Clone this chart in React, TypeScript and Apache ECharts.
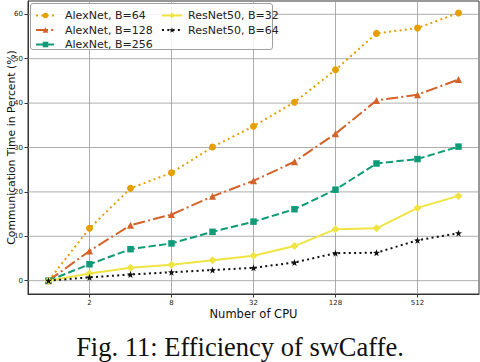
import React, { useEffect, useRef } from "react";
import * as echarts from "echarts";

const cpus = [1, 2, 4, 8, 16, 32, 64, 128, 256, 512, 1024];
const xTickCpus = [2, 8, 32, 128, 512];
const yTicks = [0, 10, 20, 30, 40, 50, 60];

const alexNet64 = [0, 11.8, 20.8, 24.3, 30.1, 34.8, 40.2, 47.5, 55.7, 56.9, 60.3];
const alexNet128 = [0, 6.7, 12.5, 14.9, 19.0, 22.5, 26.8, 33.1, 40.6, 41.9, 45.3];
const alexNet256 = [0, 3.7, 7.1, 8.4, 11.0, 13.3, 16.1, 20.5, 26.4, 27.4, 30.2];
const resNet32 = [0, 1.6, 2.9, 3.6, 4.6, 5.6, 7.8, 11.6, 11.8, 16.4, 19.1];
const resNet64 = [0, 0.75, 1.4, 1.9, 2.4, 2.9, 4.1, 6.2, 6.3, 9.1, 10.7];

const seriesNames = [
  "AlexNet, B=64",
  "AlexNet, B=128",
  "AlexNet, B=256",
  "ResNet50, B=32",
  "ResNet50, B=64",
];
const caption = "Fig. 11: Efficiency of swCaffe.";
const xTitle = "Number of CPU";
const yTitle = "Communication Time in Percent (%)";

const STAR =
  "path://M0,-10L2.35,-3.24L9.51,-3.09L3.8,1.24L5.88,8.09L0,4L-5.88,8.09L-3.8,1.24L-9.51,-3.09L-2.35,-3.24Z";

const SANS = "'DejaVu Sans', sans-serif";
const GRID_COLOR = "#9a9a9a";
const X_MIN = -0.5;
const X_MAX = 10.5;
const Y_MIN = -3;
const Y_MAX = 63;

export default function App() {
  const ref = useRef<HTMLDivElement>(null);
  useEffect(() => {
    if (!ref.current) return;
    const chart = echarts.init(ref.current, undefined, { renderer: "svg" });
    const toPts = (vals: number[]) => cpus.map((c, i) => [Math.log2(c), vals[i]]);
    const xTickVals = xTickCpus.map((c) => Math.log2(c));

    const specs = [
      { vals: alexNet64, color: "#E69F00", dash: [2, 3.3], symbol: "circle", size: 7 },
      { vals: alexNet128, color: "#D3632A", dash: [12, 3.2, 2, 3.2], symbol: "triangle", size: 7 },
      { vals: alexNet256, color: "#0F9B77", dash: [7.4, 3.2], symbol: "rect", size: 6.5 },
      { vals: resNet32, color: "#F0E442", dash: "solid", symbol: "diamond", size: 8 },
      { vals: resNet64, color: "#111111", dash: [2, 3.3], symbol: STAR, size: 7 },
    ];

    const legendText = {
      fontSize: 11,
      lineHeight: 10,
      fontFamily: SANS,
      color: "#222",
    };

    const gridSeries = [
      ...xTickVals.map((v) => [
        [v, Y_MIN],
        [v, Y_MAX],
      ]),
      ...yTicks.map((t) => [
        [X_MIN, t],
        [X_MAX, t],
      ]),
    ].map((pts, i) => ({
      name: "grid-" + i,
      type: "line",
      data: pts,
      symbol: "none",
      showSymbol: false,
      silent: true,
      z: 1,
      color: GRID_COLOR,
      itemStyle: { color: GRID_COLOR },
      lineStyle: { color: GRID_COLOR, width: 1, type: "solid", opacity: 0.8 },
      emphasis: { disabled: true },
      tooltip: { show: false },
    }));

    chart.setOption({
      animation: false,
      backgroundColor: "#fff",
      grid: {
        left: 28,
        right: 1,
        top: 1,
        bottom: 68,
        containLabel: false,
        outerBoundsMode: "none",
        show: true,
        borderColor: "#333",
        borderWidth: 1,
        backgroundColor: "rgba(0,0,0,0)",
      },
      xAxis: {
        type: "value",
        min: X_MIN,
        max: X_MAX,
        name: xTitle,
        nameLocation: "middle",
        nameGap: 14,
        nameMoveOverlap: false,
        nameTextStyle: { fontSize: 11.5, fontFamily: SANS, color: "#111" },
        axisLine: { show: true, onZero: false, lineStyle: { color: "#333", width: 1 } },
        axisTick: {
          show: true,
          customValues: xTickVals,
          length: 3.5,
          lineStyle: { color: "#333", width: 1 },
        },
        axisLabel: {
          customValues: xTickVals,
          formatter: (v: number) => String(Math.round(Math.pow(2, v))),
          fontSize: 7,
          fontFamily: SANS,
          color: "#222",
          margin: 5,
        },
        splitLine: { show: false },
      },
      yAxis: {
        type: "value",
        min: Y_MIN,
        max: Y_MAX,
        name: yTitle,
        nameLocation: "middle",
        nameGap: 11.5,
        nameMoveOverlap: false,
        nameTextStyle: { fontSize: 10.8, fontFamily: SANS, color: "#111" },
        axisLine: { show: true, onZero: false, lineStyle: { color: "#333", width: 1 } },
        axisTick: {
          show: true,
          customValues: yTicks,
          length: 3.5,
          lineStyle: { color: "#333", width: 1 },
        },
        axisLabel: {
          customValues: yTicks,
          fontSize: 7,
          fontFamily: SANS,
          color: "#222",
          margin: 5,
        },
        splitLine: { show: false },
      },
      legend: [
        {
          orient: "vertical",
          left: 35,
          top: 10,
          padding: 0,
          itemWidth: 19,
          itemHeight: 7,
          itemGap: 3.5,
          data: seriesNames.slice(0, 3),
          textStyle: { ...legendText, padding: [0, 0, 0, 5] },
        },
        {
          orient: "vertical",
          left: 161,
          top: 10,
          padding: 0,
          itemWidth: 20,
          itemHeight: 7,
          itemGap: 3.5,
          data: seriesNames.slice(3),
          textStyle: { ...legendText, padding: [0, 0, 0, 1] },
        },
      ],
      graphic: [
        {
          type: "rect",
          z: 3,
          shape: { x: 30.5, y: 3.5, width: 242, height: 46, r: 2.5 },
          style: { fill: "rgba(255,255,255,0.85)", stroke: "#a0a0a0", lineWidth: 1 },
        },
        {
          type: "text",
          z: 5,
          x: 240,
          y: 347,
          style: {
            text: caption,
            fontSize: 26.5,
            fontFamily: "'Liberation Serif', serif",
            fill: "#111",
            align: "center",
            verticalAlign: "middle",
          },
        },
      ],
      series: [
        ...gridSeries,
        ...specs.map((s, i) => ({
          name: seriesNames[i],
          type: "line",
          data: toPts(s.vals),
          symbol: s.symbol,
          symbolSize: s.size,
          showSymbol: true,
          color: s.color,
          itemStyle: { color: s.color },
          lineStyle: { color: s.color, width: 2, type: s.dash },
          emphasis: { disabled: true },
          z: 2,
        })),
      ],
    });
    return () => chart.dispose();
  }, []);
  return (
    <div
      ref={ref}
      style={{ position: "absolute", left: 0, top: 0, width: 480, height: 362 }}
    />
  );
}
